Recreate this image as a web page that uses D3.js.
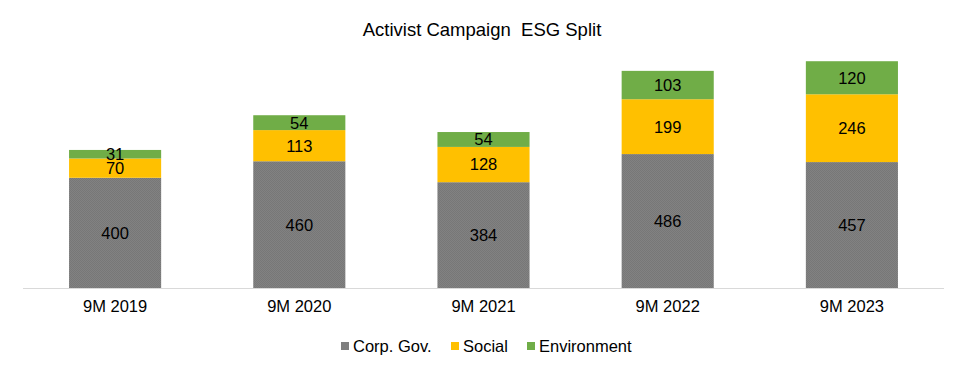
<!DOCTYPE html>
<html>
<head>
<meta charset="utf-8">
<script src="https://cdn.jsdelivr.net/npm/d3@7/dist/d3.min.js"></script>
<style>
  body { margin: 0; background: #fff; }
  svg { display: block; font-family: "Liberation Sans", Arial, sans-serif; }
</style>
</head>
<body>
<div id="chart"></div>
<script>
const periods = ["9M 2019", "9M 2020", "9M 2021", "9M 2022", "9M 2023"];
const corpGov = [400, 460, 384, 486, 457];
const social = [70, 113, 128, 199, 246];
const environment = [31, 54, 54, 103, 120];

const seriesNames = ["Corp. Gov.", "Social", "Environment"];
const seriesColors = ["url(#grayDots)", "#ffc000", "#70ad47"];
const legendColors = ["#7f7f7f", "#ffc000", "#70ad47"];

const width = 965, height = 375;
const FONT_SIZE = "16.5px";

const svg = d3.select("#chart").append("svg")
    .attr("width", width)
    .attr("height", height);

// dotted gray fill like the original
const pat = svg.append("defs").append("pattern")
    .attr("id", "grayDots")
    .attr("width", 2).attr("height", 2)
    .attr("patternUnits", "userSpaceOnUse");
pat.append("rect").attr("width", 2).attr("height", 2).attr("fill", "#828282");
pat.append("rect").attr("width", 1).attr("height", 1).attr("fill", "#777777");
pat.append("rect").attr("x", 1).attr("y", 1).attr("width", 1).attr("height", 1).attr("fill", "#777777");

const rows = periods.map((p, i) => ({
    period: p,
    "Corp. Gov.": corpGov[i],
    "Social": social[i],
    "Environment": environment[i]
}));

const stacked = d3.stack().keys(seriesNames)(rows);

const x = d3.scaleBand()
    .domain(periods)
    .range([23, 944])
    .paddingInner(0.5)
    .paddingOuter(0.25);

const y = d3.scaleLinear()
    .domain([0, 900])
    .range([288, 40]);

svg.append("text")
    .attr("x", 482)
    .attr("y", 36)
    .attr("text-anchor", "middle")
    .style("font-size", "18.5px")
    .style("white-space", "pre")
    .attr("fill", "#000")
    .text("Activist Campaign  ESG Split");

const layer = svg.selectAll("g.layer")
    .data(stacked)
    .join("g")
    .attr("class", "layer")
    .attr("fill", (d, i) => seriesColors[i]);

layer.selectAll("rect")
    .data(d => d)
    .join("rect")
    .attr("x", d => x(d.data.period))
    .attr("width", x.bandwidth())
    .attr("y", d => y(d[1]))
    .attr("height", d => y(d[0]) - y(d[1]));

layer.selectAll("text")
    .data(d => d)
    .join("text")
    .attr("x", d => x(d.data.period) + x.bandwidth() / 2)
    .attr("y", d => (y(d[0]) + y(d[1])) / 2)
    .attr("dy", "0.36em")
    .attr("text-anchor", "middle")
    .attr("fill", "#000")
    .style("font-size", FONT_SIZE)
    .text(d => d[1] - d[0]);

// x axis
const xAxis = svg.append("g")
    .attr("transform", `translate(0,${y(0)})`)
    .call(d3.axisBottom(x).tickSize(0).tickPadding(12));
xAxis.select(".domain").attr("stroke", "#d9d9d9").attr("d", "M23,0.5H944");
xAxis.selectAll("text")
    .style("font-size", FONT_SIZE)
    .style("font-family", "'Liberation Sans', Arial, sans-serif")
    .attr("fill", "#000");

// legend
const legendX = [341, 451, 527];
const legend = svg.append("g");
seriesNames.forEach((name, i) => {
    legend.append("rect")
        .attr("x", legendX[i])
        .attr("y", 342)
        .attr("width", 8).attr("height", 8)
        .attr("fill", legendColors[i]);
    legend.append("text")
        .attr("x", legendX[i] + 12)
        .attr("y", 346)
        .attr("dy", "0.36em")
        .style("font-size", FONT_SIZE)
        .attr("fill", "#000")
        .text(name);
});
</script>
</body>
</html>
